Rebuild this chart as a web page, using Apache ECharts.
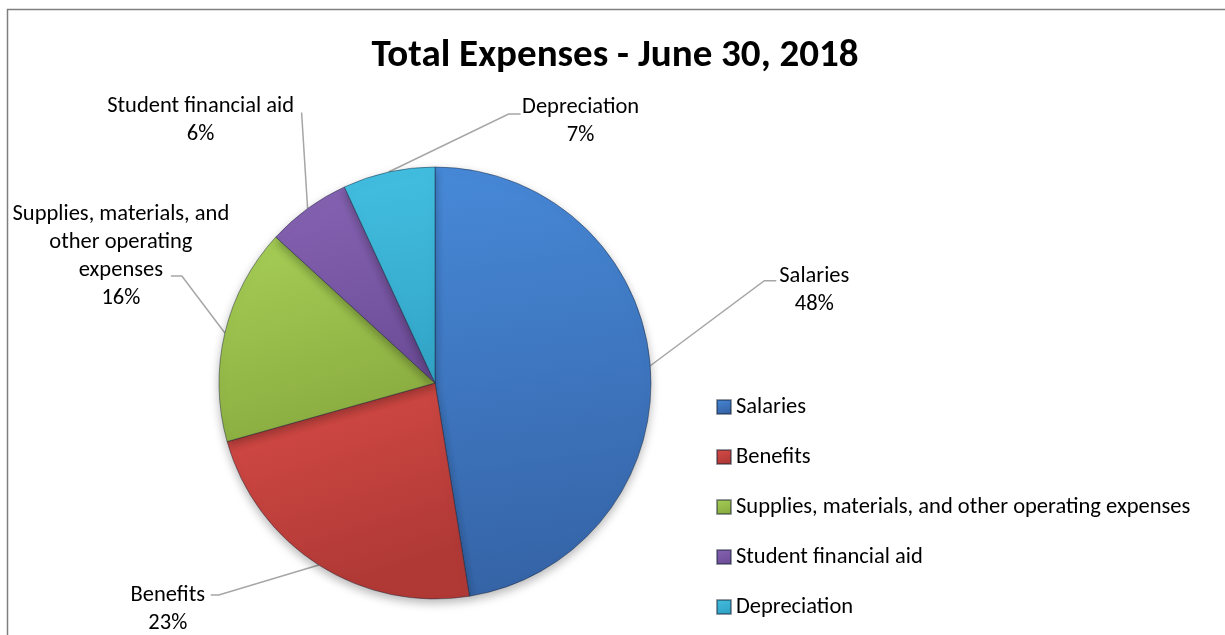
<!DOCTYPE html>
<html>
<head>
<meta charset="utf-8">
<script src="https://cdn.jsdelivr.net/npm/echarts@6/dist/echarts.min.js"></script>
<style>html,body{margin:0;padding:0;background:#fff}#chart{width:1225px;height:635px}</style>
</head>
<body>
<div id="chart"></div>
<script>
// ---- data ----
var categories = ['Salaries', 'Benefits', 'Supplies, materials, and other operating expenses', 'Student financial aid', 'Depreciation'];
var labelNames = ['Salaries', 'Benefits', 'Supplies, materials, and\nother operating\nexpenses', 'Student financial aid', 'Depreciation'];
var values = [47.5, 23.2, 16.2, 6.3, 6.9];
var titleText = 'Total Expenses - June 30, 2018';

// ---- style ----
var FONT = 'Calibri, Carlito, "Liberation Sans", sans-serif';
var colorTop = ['#4789d8', '#d84c47', '#a7cf56', '#8764b4', '#43bfe1'];
var colorBot = ['#3563a6', '#b03936', '#8bad41', '#6d4d98', '#32a4c6'];
var CX = 435, CY = 383, R = 216;
// leader line knee offset from slice edge, horizontal tail, label centre offset from tail end
var knee = [[114, -85], [-100, 30], [-43, -57], [-6, -96], [120, -58]];
var tail = [12, -8, -11, 0, 12];
var labelOff = [[38, 10], [-43, 14.5], [-50, -20], [-101, 8], [60, 7.5]];

var total = values.reduce(function (a, b) { return a + b; }, 0);
function edgePoint(i) {
  var cum = 0;
  for (var k = 0; k < i; k++) cum += values[k];
  var a = (cum + values[i] / 2) / total * Math.PI * 2;
  return [CX + R * Math.sin(a), CY - R * Math.cos(a)];
}

var data = categories.map(function (name, i) {
  return {
    name: name,
    value: values[i],
    itemStyle: {
      color: {
        type: 'linear', x: 0, y: 0, x2: 0.3, y2: 1,
        colorStops: [{ offset: 0, color: colorTop[i] }, { offset: 1, color: colorBot[i] }]
      }
    }
  };
});

var chart = echarts.init(document.getElementById('chart'));
chart.setOption({
  backgroundColor: '#fff',
  animation: false,
  title: {
    text: titleText,
    left: 615, top: 33, textAlign: 'center', padding: 0,
    textStyle: { fontFamily: FONT, fontWeight: 'bold', fontSize: 39, color: '#000', lineHeight: 46 }
  },
  legend: {
    orient: 'vertical',
    left: 716, top: 395, padding: 0,
    itemWidth: 14, itemHeight: 14, itemGap: 26,
    icon: 'rect',
    data: categories,
    textStyle: { fontFamily: FONT, fontSize: 22.5, color: '#000', lineHeight: 24 }
  },
  graphic: [{
    type: 'rect', silent: true, z: -1,
    shape: { x: 7.5, y: 9.5, width: 1300, height: 700 },
    style: { fill: 'none', stroke: '#7f7f7f', lineWidth: 1.5 }
  }],
  series: [{
    type: 'pie',
    center: [CX, CY],
    radius: R,
    startAngle: 90,
    clockwise: true,
    percentPrecision: 0,
    data: data,
    itemStyle: {
      borderColor: 'rgba(20,30,50,0.45)', borderWidth: 1,
      shadowBlur: 10, shadowColor: 'rgba(0,0,0,0.28)', shadowOffsetY: 4
    },
    label: {
      show: true,
      position: 'outside',
      alignTo: 'none',
      overflow: 'none',
      formatter: function (p) { return labelNames[p.dataIndex] + '\n' + p.percent + '%'; },
      fontFamily: FONT, fontSize: 22.5, lineHeight: 28, color: '#000', align: 'center'
    },
    labelLine: { show: true, lineStyle: { color: '#a6a6a6', width: 1.5 } },
    labelLayout: function (p) {
      var i = p.dataIndex;
      var e = edgePoint(i);
      var k = [e[0] + knee[i][0], e[1] + knee[i][1]];
      var t = [k[0] + tail[i], k[1]];
      return {
        x: t[0] + labelOff[i][0],
        y: t[1] + labelOff[i][1],
        align: 'center',
        verticalAlign: 'middle',
        labelLinePoints: [e, k, t]
      };
    },
    emphasis: { disabled: true }
  }]
});
</script>
</body>
</html>
